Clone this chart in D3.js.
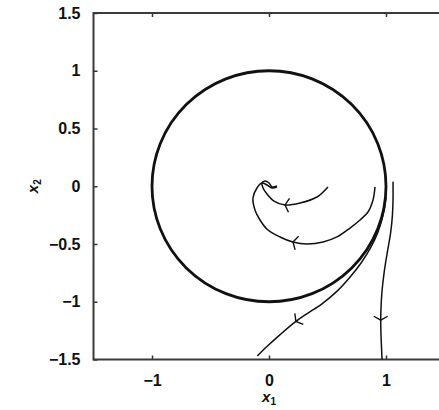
<!DOCTYPE html>
<html>
<head>
<meta charset="utf-8">
<script src="https://cdn.jsdelivr.net/npm/d3@7"></script>
<style>
  html, body { margin: 0; padding: 0; background: #fff; }
  svg { display: block; }
  .tick text { font-family: "Liberation Sans", Arial, sans-serif; font-weight: bold; font-size: 16px; fill: #111; }
  .tick line { stroke: #333; stroke-width: 1.5; }
</style>
</head>
<body>
<svg id="chart" width="439" height="410"></svg>
<script>
// Axis ticks
const xTickValues = [-1, 0, 1];
const xTickLabels = ["\u22121", "0", "1"];
const yTickValues = [-1.5, -1, -0.5, 0, 0.5, 1, 1.5];
const yTickLabels = ["\u22121.5", "\u22121", "\u22120.5", "0", "0.5", "1", "1.5"];

// Limit cycle (unit circle)
const cycleCenter = [0, 0];
const cycleRadius = 1;

// Trajectories [x1, x2], listed in the direction of motion
const trajInner = [
  [0.504, -0.006], [0.41, -0.093], [0.265, -0.145], [0.137, -0.162],
  [0.043, -0.128], [-0.017, -0.067], [-0.051, -0.015], [-0.06, 0.028],
  [-0.034, 0.045], [0.0, 0.028], [0.026, -0.006], [0.068, 0.002]
];
const trajMiddle = [
  [0.906, -0.006], [0.889, -0.119], [0.846, -0.223], [0.778, -0.292],
  [0.692, -0.362], [0.581, -0.439], [0.462, -0.483], [0.325, -0.5],
  [0.205, -0.483], [0.094, -0.439], [-0.009, -0.379], [-0.077, -0.292],
  [-0.12, -0.206], [-0.137, -0.102], [-0.103, -0.015], [-0.06, 0.028],
  [-0.017, 0.011], [0.026, -0.015], [0.068, -0.006]
];
const trajOuter = [
  [1.0, -0.10], [0.975, -0.25], [0.93, -0.40], [0.87, -0.53],
  [0.79, -0.66], [0.69, -0.79], [0.58, -0.91], [0.45, -1.02],
  [0.33, -1.10], [0.23, -1.17], [0.10, -1.28], [-0.02, -1.39], [-0.10, -1.47]
];
const trajRight = [
  [1.06, 0.04], [1.06, -0.12], [1.055, -0.25], [1.04, -0.40],
  [1.01, -0.58], [0.985, -0.74], [0.965, -0.92], [0.957, -1.06],
  [0.955, -1.16], [0.957, -1.28], [0.962, -1.40], [0.966, -1.5]
];
// Index of the point on each trajectory that carries a direction arrow
const arrowIndex = { inner: 3, middle: 8, outer: 9, right: 8 };

const svg = d3.select("#chart");
const x = d3.scaleLinear().domain([-1.5, 1.5]).range([93.5, 444.5]);
const y = d3.scaleLinear().domain([-1.5, 1.5]).range([359.5, 13]);

// Axes with inward ticks
const gx = svg.append("g").attr("transform", `translate(0,${y(-1.5)})`)
  .call(d3.axisBottom(x).tickValues(xTickValues).tickFormat((d, i) => xTickLabels[i])
    .tickSizeInner(-4).tickSizeOuter(0).tickPadding(15));
const gxTop = svg.append("g").attr("transform", `translate(0,${y(1.5)})`)
  .call(d3.axisTop(x).tickValues(xTickValues).tickFormat("")
    .tickSizeInner(-4).tickSizeOuter(0));
const gy = svg.append("g").attr("transform", `translate(${x(-1.5)},0)`)
  .call(d3.axisLeft(y).tickValues(yTickValues).tickFormat((d, i) => yTickLabels[i])
    .tickSizeInner(-4).tickSizeOuter(0).tickPadding(13));
[gx, gxTop, gy].forEach(g => g.select(".domain").remove());

// Frame
svg.append("rect")
  .attr("x", x(-1.5)).attr("y", y(1.5))
  .attr("width", x(1.5) - x(-1.5)).attr("height", y(-1.5) - y(1.5))
  .attr("fill", "none").attr("stroke", "#3a3a3a").attr("stroke-width", 2);

// Limit cycle
svg.append("ellipse")
  .attr("cx", x(cycleCenter[0])).attr("cy", y(cycleCenter[1]))
  .attr("rx", x(cycleRadius) - x(0)).attr("ry", y(0) - y(cycleRadius))
  .attr("fill", "none").attr("stroke", "#111").attr("stroke-width", 2.8);

const line = d3.line().x(d => x(d[0])).y(d => y(d[1])).curve(d3.curveCatmullRom.alpha(0.5));

function drawTrajectory(pts, ai) {
  svg.append("path").datum(pts).attr("d", line)
    .attr("fill", "none").attr("stroke", "#111").attr("stroke-width", 1.5);
  const p = pts[ai], a = pts[ai - 1], b = pts[ai + 1];
  const dx = x(b[0]) - x(a[0]), dy = y(b[1]) - y(a[1]);
  const ang = Math.atan2(dy, dx);
  const px = x(p[0]), py = y(p[1]);
  const len = 8, spread = 1.05;
  const b1 = [px - len * Math.cos(ang - spread), py - len * Math.sin(ang - spread)];
  const b2 = [px - len * Math.cos(ang + spread), py - len * Math.sin(ang + spread)];
  svg.append("path")
    .attr("d", `M${b1[0]},${b1[1]}L${px},${py}L${b2[0]},${b2[1]}`)
    .attr("fill", "none").attr("stroke", "#111").attr("stroke-width", 1.4);
}
drawTrajectory(trajInner, arrowIndex.inner);
drawTrajectory(trajMiddle, arrowIndex.middle);
drawTrajectory(trajOuter, arrowIndex.outer);
drawTrajectory(trajRight, arrowIndex.right);

// Axis titles
const titleFont = "'Liberation Sans', Arial, sans-serif";
const xt = svg.append("text").attr("x", x(0)).attr("y", 402)
  .attr("text-anchor", "middle").attr("font-family", titleFont).attr("font-size", 15)
  .attr("font-weight", "bold").attr("fill", "#111");
xt.append("tspan").attr("font-style", "italic").text("x");
xt.append("tspan").attr("font-size", 10).attr("dy", 3).text("1");

const yt = svg.append("text").attr("transform", `translate(38,${y(0)}) rotate(-90)`)
  .attr("text-anchor", "middle").attr("font-family", titleFont).attr("font-size", 15)
  .attr("font-weight", "bold").attr("fill", "#111");
yt.append("tspan").attr("font-style", "italic").text("x");
yt.append("tspan").attr("font-size", 10).attr("dy", 3).text("2");
</script>
</body>
</html>
